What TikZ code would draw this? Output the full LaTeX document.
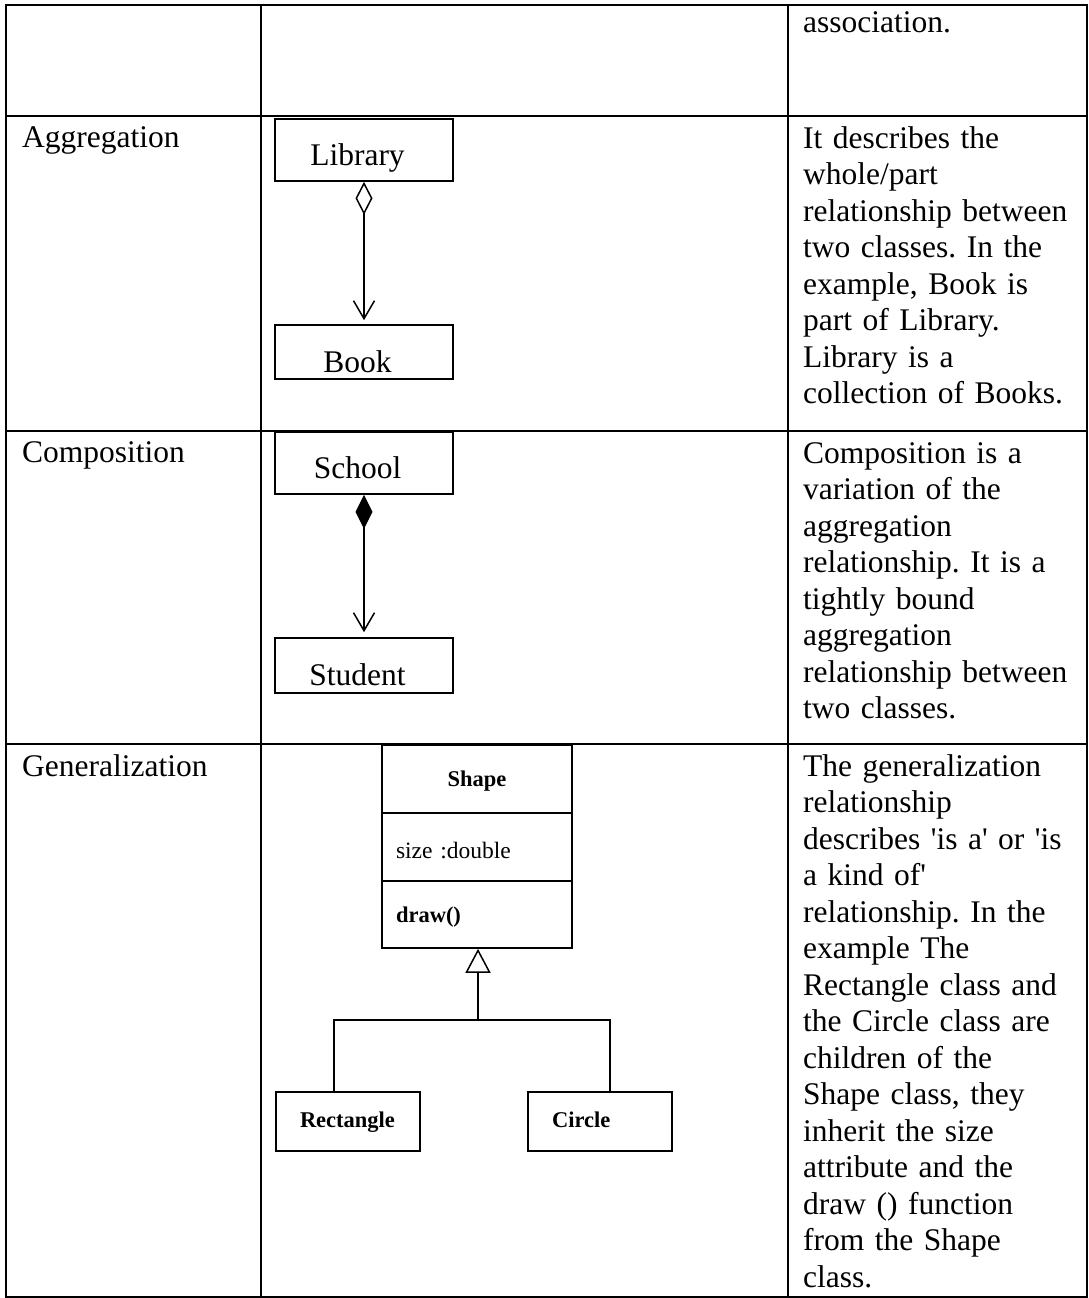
\documentclass[tikz,border=0pt]{standalone}
\usepackage{fontspec}
\setmainfont{Liberation Serif}
\usetikzlibrary{arrows.meta}
\frenchspacing
% straight apostrophe, bypassing the TeX quote mapping
\newcommand{\sqt}{\XeTeXglyph\XeTeXcharglyph"0027\relax}
\begin{document}
\begin{tikzpicture}[x=1pt, y=-1pt,
  rule/.style={line width=2pt},
  big/.style={font=\fontsize{31.5}{36.5}\selectfont},
  small/.style={font=\fontsize{22.5}{26}\selectfont},
  cell/.style={big, inner sep=0pt, anchor=base west, text width=285pt, align=left},
  rowlabel/.style={big, inner sep=0pt, anchor=base west},
  classbox/.style={draw, line width=1.6pt, big, minimum width=178pt, inner sep=0pt, text depth=0pt},
  umlpart/.style={draw, line width=1.6pt, small, text width=162pt, inner xsep=14pt, inner ysep=0pt},
  leaf/.style={draw, line width=1.8pt, small, text width=96pt, inner xsep=24pt, inner ysep=0pt,
    minimum height=59pt, align=left, text height=14pt, text depth=3pt},
  link/.style={line width=1.5pt},
]
\useasboundingbox (0,0) rectangle (1089,1298);

% table grid
\draw[rule] (6,5) rectangle (1087,1297);
\draw[rule] (261,5) -- (261,1297) (788,5) -- (788,1297);
\draw[rule] (6,116) -- (1087,116) (6,431) -- (1087,431) (6,744) -- (1087,744);

% row labels
\node[rowlabel] (lagg) at (22,147) {Aggregation};
\node[rowlabel] (lcomp) at (22,462) {Composition};
\node[rowlabel] (lgen) at (22,776) {Generalization};

% descriptions
\node[cell] (d0) at (803,33) {association.};
\node[cell] (d1) at (803,148) {It describes the\\ whole/part\\ relationship between\\ two classes. In the\\ example, Book is\\ part of Library.\\ Library is a\\ collection of Books.};
\node[cell] (d2) at (803,463) {Composition is a\\ variation of the\\ aggregation\\ relationship. It is a\\ tightly bound\\ aggregation\\ relationship between\\ two classes.};
\node[cell] (d3) at (803,776) {The generalization\\ relationship\\ describes \sqt is a\sqt{} or \sqt is\\ a kind of\sqt\\ relationship. In the\\ example The\\ Rectangle class and\\ the Circle class are\\ children of the\\ Shape class, they\\ inherit the size\\ attribute and the\\ draw () function\\ from the Shape\\ class.};

% aggregation
\node[classbox, minimum height=62pt, text height=30pt] (lib) at (364,150) {Library\kern13pt};
\node[classbox, minimum height=54pt, text height=40pt] (book) at (364,352) {Book\kern13pt};
\draw[link, {Diamond[open, length=33pt, width=17pt, line width=1.5pt]}-{Straight Barb[length=18pt, width=21pt, line width=1.5pt]}, shorten >=4pt]
  (lib.south) -- (book.north);

% composition
\node[classbox, minimum height=62pt, text height=30pt] (school) at (364,463) {School\kern13pt};
\node[classbox, minimum height=55pt, text height=39pt] (student) at (364,665.5) {Student\kern13pt};
\draw[link, {Diamond[length=34pt, width=17pt]}-{Straight Barb[length=18pt, width=21pt, line width=1.5pt]}, shorten >=5pt]
  (school.south) -- (student.north);

% generalization
\node[umlpart, minimum height=68pt, align=center, text height=17pt, text depth=3pt] (sname) at (477,779) {\textbf{Shape}};
\node[umlpart, minimum height=68pt, align=left, text height=24pt, text depth=2pt, font=\fontsize{23.5}{26}\selectfont] (sattr) at (477,847) {size :double};
\node[umlpart, minimum height=67pt, align=left, text height=18pt, text depth=3pt] (sops) at (477,914.5) {\textbf{draw()}};
\node[leaf] (rect) at (348,1121.5) {\textbf{Rectangle}};
\node[leaf] (circ) at (600,1121.5) {\textbf{Circle}};
\coordinate (jn) at (478,1020);
\draw[link, -{Triangle[open, length=24pt, width=25pt, line width=1.5pt]}] (jn) -- (jn |- sops.south);
\draw[link] ([xshift=-14pt]rect.north) |- (jn) -| ([xshift=10pt]circ.north);
\end{tikzpicture}
\end{document}
